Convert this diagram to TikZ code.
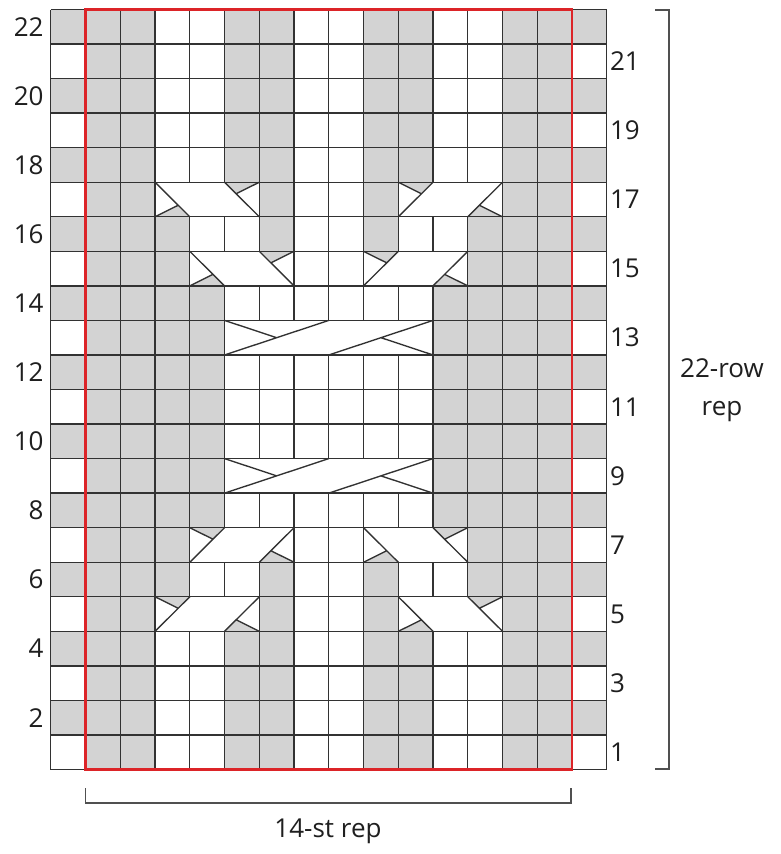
\documentclass[tikz,border=0pt]{standalone}
\usepackage{fontspec}
\setmainfont{Open Sans}
\definecolor{cellgray}{RGB}{211,211,211}
\definecolor{gridline}{RGB}{50,50,50}
\definecolor{repred}{RGB}{220,36,40}
\definecolor{brk}{RGB}{80,80,80}
\tikzset{
  cable/.style={draw=gridline, line width=1.35pt},
  lab/.style={inner sep=0pt, font=\fontsize{26}{38}\selectfont, text=black!88},
  bracket/.style={draw=brk, line width=1.5pt},
  rpc/.pic={
    \fill[white] (0,0) rectangle (3,1);
    \fill[cellgray] (0,1) -- (1,1) -- (2/3,2/3) -- cycle;
    \fill[cellgray] (3,0) -- (2,0) -- (7/3,1/3) -- cycle;
    \draw[cable] (0,0) -- (1,1) (2,0) -- (3,1) (0,1) -- (2/3,2/3) (3,0) -- (7/3,1/3);
    \draw[cable] (0,0) rectangle (3,1);
  },
  lpc/.pic={
    \fill[white] (0,0) rectangle (3,1);
    \fill[cellgray] (3,1) -- (2,1) -- (7/3,2/3) -- cycle;
    \fill[cellgray] (0,0) -- (1,0) -- (2/3,1/3) -- cycle;
    \draw[cable] (3,0) -- (2,1) (1,0) -- (0,1) (3,1) -- (7/3,2/3) (0,0) -- (2/3,1/3);
    \draw[cable] (0,0) rectangle (3,1);
  },
  bigcable/.pic={
    \fill[white] (0,0) rectangle (6,1);
    \draw[cable] (0,0) -- (3,1) (3,0) -- (6,1) (0,1) -- (1.5,0.5) (6,0) -- (4.5,0.5);
    \draw[cable] (0,0) rectangle (6,1);
  }
}
\begin{document}
\begin{tikzpicture}[x=1pt,y=-1pt]
\useasboundingbox (0,0) rectangle (781,854);
\fill[white] (0,0) rectangle (781,854);
\begin{scope}[shift={(50.8pt,-769.5pt)}, x=34.75pt, y=34.545pt]
  % shaded (purl) cells
  \foreach \r in {1,2,3,4,18,19,20,21,22}
    \foreach \c in {1,2,5,6,9,10,13,14}
      \fill[cellgray] (\c,\r-1) rectangle ++(1,1);
  \foreach \r in {6,16}
    \foreach \c in {1,2,3,6,9,12,13,14}
      \fill[cellgray] (\c,\r-1) rectangle ++(1,1);
  \foreach \r in {8,9,10,11,12,13,14}
    \foreach \c in {1,2,3,4,11,12,13,14}
      \fill[cellgray] (\c,\r-1) rectangle ++(1,1);
  \foreach \r in {5,17}
    \foreach \c in {1,2,6,9,13,14}
      \fill[cellgray] (\c,\r-1) rectangle ++(1,1);
  \foreach \r in {7,15}
    \foreach \c in {1,2,3,12,13,14}
      \fill[cellgray] (\c,\r-1) rectangle ++(1,1);
  \foreach \r in {2,4,...,22}
    \foreach \c in {0,15}
      \fill[cellgray] (\c,\r-1) rectangle ++(1,1);
  % grid
  \draw[draw=gridline, line width=1.35pt, step=1] (0,0) grid (16,22);
  % cables
  \pic at (3,4) {rpc};
  \pic at (10,4) {lpc};
  \pic at (4,6) {rpc};
  \pic at (9,6) {lpc};
  \pic at (5,8) {bigcable};
  \pic at (5,12) {bigcable};
  \pic at (4,14) {lpc};
  \pic at (9,14) {rpc};
  \pic at (3,16) {lpc};
  \pic at (10,16) {rpc};
  % repeat outline
  \draw[repred, line width=2.4pt] (1,0) rectangle (15,22);
  % row numbers
  \foreach \r in {2,4,...,22}
    \node[lab, anchor=east] (L\r) at ([xshift=-7pt]0,\r-0.5) {\r};
  \foreach \r in {1,3,...,21}
    \node[lab, anchor=west] (R\r) at ([xshift=3pt]16,\r-0.5) {\r};
\end{scope}
% right bracket
\coordinate (rbA) at (655,10);
\coordinate (rbB) at (669,10);
\coordinate (rbC) at (669,769);
\coordinate (rbD) at (655,769);
\draw[bracket] (rbA) -- (rbB) -- (rbC) -- (rbD);
\node[lab, align=center] (rowrep) at (722,390) {22-row\\rep};
% bottom bracket
\coordinate (bbA) at (85.5,788);
\coordinate (bbB) at (85.5,803);
\coordinate (bbC) at (571,803);
\coordinate (bbD) at (571,788);
\draw[bracket] (bbA) -- (bbB) -- (bbC) -- (bbD);
\node[lab] (strep) at (328,831) {14-st rep};
\end{tikzpicture}
\end{document}
